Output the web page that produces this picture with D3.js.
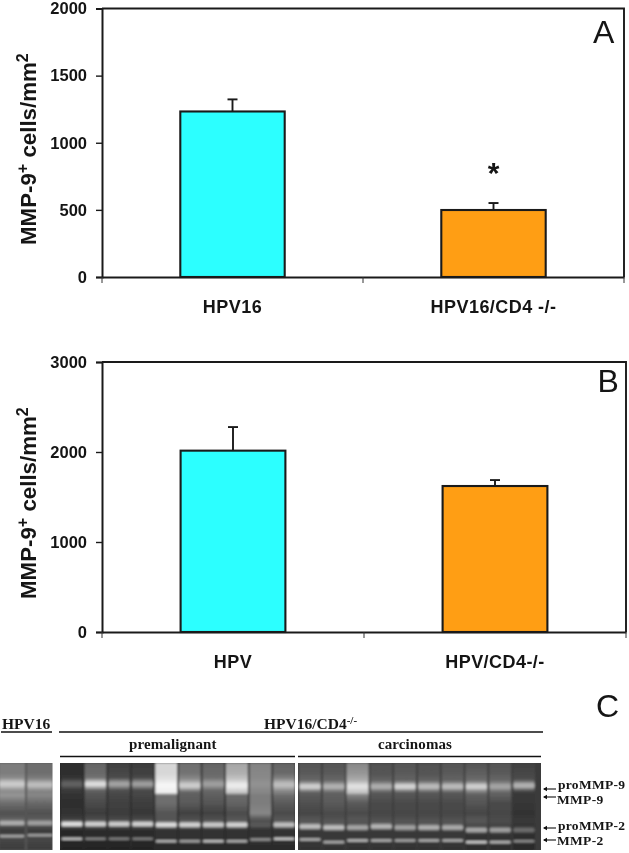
<!DOCTYPE html>
<html><head><meta charset="utf-8">
<script src="https://cdn.jsdelivr.net/npm/d3@7/dist/d3.min.js"></script>
<style>
html,body{margin:0;padding:0;background:#fff}
svg{display:block;filter:blur(0.35px)}
text{fill:#151515}
.sans{font-family:"Liberation Sans",Arial,sans-serif}
.serif{font-family:"Liberation Serif","Times New Roman",serif;font-weight:bold}
</style></head><body>
<svg id="c" width="629" height="853"></svg>
<script>
// Panel A
const catsA = ["HPV16", "HPV16/CD4 -/-"];
const valuesA = [1233, 499];
const errorsA = [90, 52];
const ticksA = [0, 500, 1000, 1500, 2000];
// Panel B
const catsB = ["HPV", "HPV/CD4-/-"];
const valuesB = [2015, 1622];
const errorsB = [262, 66];
const ticksB = [0, 1000, 2000, 3000];
const barColors = ["#2cffff", "#ff9e14"];

// Panel C: gel lanes. Smear grey level at each migration stop, then bands.
const smearStops = [0, 12, 24, 34, 37, 46, 58, 64, 68, 78, 88, 100];
const lanesLeft = [
  [125,125,160,140,150,110,80,95,85,60,70,60],
  [110,110,145,130,135,105,80,90,85,60,70,60]];
const lanesMid = [
  [45,45,60,55,50,45,50,60,75,40,40,35],
  [100,105,130,90,85,75,60,75,80,45,40,35],
  [65,70,90,75,70,65,60,70,75,45,40,35],
  [60,65,85,70,70,62,55,70,75,45,40,35],
  [215,215,235,240,110,110,85,85,85,50,50,40],
  [110,115,160,100,95,90,65,80,80,50,50,40],
  [100,105,120,100,95,85,65,80,80,50,50,40],
  [165,175,215,200,105,100,75,85,85,50,50,40],
  [130,135,140,135,125,125,135,90,75,50,50,40],
  [100,105,160,130,110,90,75,85,85,50,50,40]];
const lanesRight = [
  [85,90,110,95,90,80,70,85,85,55,55,50],
  [85,90,110,100,95,90,75,80,90,55,55,50],
  [135,150,185,195,130,90,75,85,85,55,55,50],
  [80,85,105,90,85,75,70,80,85,55,55,50],
  [85,90,105,90,85,75,70,80,85,55,55,50],
  [80,85,105,90,85,75,70,80,85,55,55,50],
  [85,90,105,90,85,75,70,80,85,55,55,50],
  [85,95,115,115,95,85,70,85,85,50,50,45],
  [85,90,110,100,95,75,70,75,75,50,50,45],
  [65,70,85,60,55,55,50,55,55,45,45,40]];
const pro9Left = [205,190], pro9Mid = [100,225,165,160,245,205,160,235,145,190],
      pro9Right = [210,180,225,175,215,190,190,210,165,180];
const pro9PosLeft = [24,25], pro9PosMid = [24,24,24,24,26,26,24,26,24,25],
      pro9PosRight = [27,27,27,27,27,27,27,27,27,26];
const pro2Left = [175,160], pro2Mid = [225,210,205,210,225,215,205,215,90,195],
      pro2Right = [195,195,170,185,165,180,175,170,160,110];
const pro2PosLeft = [69,69], pro2PosMid = [70,70,70,70,71,71,71,71,71,71],
      pro2PosRight = [73,74,74,73,74,74,74,77,77,77];
const mmp2Left = [170,165], mmp2Mid = [195,135,130,130,185,170,200,180,155,210],
      mmp2Right = [185,175,195,185,175,185,185,210,185,145];
const mmp2PosLeft = [84,83], mmp2PosMid = [87,87,87,87,90,90,90,90,88,87],
      mmp2PosRight = [88,91,89,89,89,89,89,91,91,90];
const markerLabels = ["proMMP-9","MMP-9","proMMP-2","MMP-2"];

const svg = d3.select("#c");
const defs = svg.append("defs");
defs.append("filter").attr("id","gelBlur").attr("x","-5%").attr("y","-5%").attr("width","110%").attr("height","110%")
  .append("feGaussianBlur").attr("stdDeviation","1.0");

function barPanel(cats, vals, errs, ticks, top, bottom, right, yMax, titleTop, letter, lx, ly, star) {
  const left = 102;
  const x = d3.scaleBand().domain(cats).range([left, right]).padding(0.6).paddingOuter(0.3);
  const y = d3.scaleLinear().domain([0, yMax]).range([bottom, top]);
  const g = svg.append("g");
  g.append("path").attr("d",`M${left},${top}H${right}V${bottom}`).attr("fill","none").attr("stroke","#1a1a1a").attr("stroke-width",1.9);
  const xb = i => x(cats[i]);
  cats.forEach((c,i)=>{
    const cx = x(c)+x.bandwidth()/2;
    g.append("line").attr("x1",cx).attr("x2",cx).attr("y1",y(vals[i])).attr("y2",y(vals[i]+errs[i])).attr("stroke","#1a1a1a").attr("stroke-width",1.9);
    g.append("line").attr("x1",cx-5).attr("x2",cx+5).attr("y1",y(vals[i]+errs[i])).attr("y2",y(vals[i]+errs[i])).attr("stroke","#1a1a1a").attr("stroke-width",1.9);
    g.append("rect").attr("x",xb(i)).attr("width",x.bandwidth()).attr("y",y(vals[i])).attr("height",bottom-y(vals[i]))
      .attr("fill",barColors[i]).attr("stroke","#1a1a1a").attr("stroke-width",2.1);
  });
  const ya = g.append("g").attr("transform",`translate(${left},0)`).call(d3.axisLeft(y).tickValues(ticks).tickSize(6).tickPadding(9).tickFormat(d3.format("d")));
  ya.selectAll("path").attr("stroke","#1a1a1a").attr("stroke-width",2);
  ya.selectAll("line").attr("stroke","#1a1a1a").attr("stroke-width",1.4);
  ya.selectAll("text").attr("class","sans").attr("font-size",16.5).attr("font-weight","bold").attr("fill","#151515");
  const xa = g.append("g").attr("transform",`translate(0,${bottom})`).call(d3.axisBottom(x).tickSize(0).tickPadding(23));
  xa.select("path").attr("stroke","#1a1a1a").attr("stroke-width",2);
  xa.selectAll("text").attr("class","sans").attr("font-size",18).attr("font-weight","bold").attr("letter-spacing",0.45).attr("fill","#151515");
  [0,1,2].forEach(i=>{
    const tx = left + i*(right-left)/2;
    g.append("line").attr("x1",tx).attr("x2",tx).attr("y1",bottom).attr("y2",bottom+6).attr("stroke","#333").attr("stroke-width",1);
  });
  const t = g.append("text").attr("class","sans").attr("transform",`translate(36,${titleTop}) rotate(-90)`)
     .attr("font-size",22.3).attr("font-weight","bold");
  t.append("tspan").text("MMP-9");
  t.append("tspan").attr("dy",-8).attr("font-size",16).text("+");
  t.append("tspan").attr("dy",8).text(" cells/mm");
  t.append("tspan").attr("dy",-8).attr("font-size",16).text("2");
  g.append("text").attr("class","sans").attr("x",lx).attr("y",ly).attr("font-size",32).text(letter);
  if(star){
    g.append("text").attr("class","sans").attr("x",x(cats[1])+x.bandwidth()/2).attr("y",star).attr("text-anchor","middle")
      .attr("font-size",30).attr("font-weight","bold").text("*");
  }
}
barPanel(catsA,valuesA,errorsA,ticksA,8.5,277,624,2000,245,"A",593,43,183);
barPanel(catsB,valuesB,errorsB,ticksB,362,632,626,3000,599,"B",597.5,392,null);

// Panel C
const gy = d3.scaleLinear().domain([0,100]).range([763,850]);
const grey = v => d3.rgb(v,v,v).formatHex();
function gel(id, x0, x1, laneRange, lanes, pro9, pro9Pos, pro2, pro2Pos, mmp2, mmp2Pos, bg) {
  const names = d3.range(lanes.length);
  const x = d3.scaleBand().domain(names).range(laneRange).paddingInner(0.07).paddingOuter(0);
  const clip = defs.append("clipPath").attr("id","clip"+id);
  clip.append("rect").attr("x",x0).attr("y",gy(0)).attr("width",x1-x0).attr("height",gy(100)-gy(0));
  const outer = svg.append("g").attr("clip-path",`url(#clip${id})`);
  const g = outer.append("g").attr("filter","url(#gelBlur)");
  g.append("rect").attr("x",x0-3).attr("y",gy(0)-3).attr("width",x1-x0+6).attr("height",gy(100)-gy(0)+6).attr("fill",bg);
  lanes.forEach((profile,i)=>{
    const grad = defs.append("linearGradient").attr("id",`g${id}${i}`).attr("x1",0).attr("x2",0).attr("y1",0).attr("y2",1);
    smearStops.forEach((s,k)=>grad.append("stop").attr("offset",s+"%").attr("stop-color",grey(profile[k])));
    g.append("rect").attr("x",x(i)).attr("width",x.bandwidth()).attr("y",gy(0)).attr("height",gy(100)-gy(0)).attr("fill",`url(#g${id}${i})`);
    const band = (pos,val,h,op)=>g.append("rect").attr("x",x(i)+0.5).attr("width",x.bandwidth()-1)
      .attr("y",gy(pos)-h/2).attr("height",h).attr("rx",1.5).attr("fill",grey(val)).attr("opacity",op);
    band(pro9Pos[i],pro9[i],10,0.4);
    band(pro9Pos[i],pro9[i],5,0.9);
    band(pro2Pos[i],pro2[i],7,0.35);
    band(pro2Pos[i],pro2[i],4,0.95);
    band(mmp2Pos[i],mmp2[i],2.6,0.95);
  });
}
gel("L",0,52.5,[-1,53],lanesLeft,pro9Left,pro9PosLeft,pro2Left,pro2PosLeft,mmp2Left,mmp2PosLeft,"#555");
gel("M",60,295,[61,295],lanesMid,pro9Mid,pro9PosMid,pro2Mid,pro2PosMid,mmp2Mid,mmp2PosMid,"#2a2a2a");
gel("R",298,541,[299,535],lanesRight,pro9Right,pro9PosRight,pro2Right,pro2PosRight,mmp2Right,mmp2PosRight,"#3a3a3a");

// Gel headers
function rule(x1,x2,y){svg.append("line").attr("x1",x1).attr("x2",x2).attr("y1",y).attr("y2",y).attr("stroke","#111").attr("stroke-width",1.7);}
rule(1,52,732); rule(59,543,732); rule(60,295,756.5); rule(298,541,756.5);
svg.append("text").attr("class","serif").attr("x",2).attr("y",729).attr("font-size",15.5).text("HPV16");
const ht = svg.append("text").attr("class","serif").attr("x",264).attr("y",729).attr("font-size",15.5);
ht.append("tspan").text("HPV16/CD4");
ht.append("tspan").attr("dy",-5).attr("font-size",11).text("-/-");
svg.append("text").attr("class","serif").attr("x",129).attr("y",749).attr("font-size",15).attr("letter-spacing",0.1).text("premalignant");
svg.append("text").attr("class","serif").attr("x",378).attr("y",749).attr("font-size",15).attr("letter-spacing",0.1).text("carcinomas");
svg.append("text").attr("class","sans").attr("x",596).attr("y",717).attr("font-size",32).text("C");

// Marker labels and arrows
const textBase = [789,804,830,845];
const arrowY = [789,797,828,840];
markerLabels.forEach((m,i)=>{
  const ay = arrowY[i];
  svg.append("path").attr("d",`M556,${ay}H544`).attr("stroke","#111").attr("stroke-width",1.1);
  svg.append("path").attr("d",`M543,${ay}l4,-2.2v4.4z`).attr("fill","#111");
  svg.append("text").attr("class","serif").attr("x",i%2?557:558).attr("y",textBase[i]).attr("font-size",13.5).attr("letter-spacing",0.3).text(m);
});
</script>
</body></html>
